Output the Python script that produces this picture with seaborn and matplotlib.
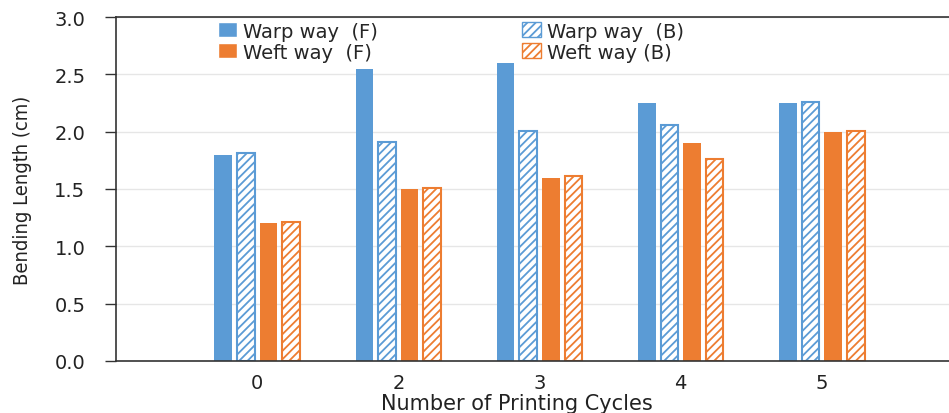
import pandas as pd
import matplotlib
matplotlib.use('Agg')
import matplotlib.pyplot as plt
from matplotlib.patches import Patch
import seaborn as sns

# data
cycles = ['0', '2', '3', '4', '5']
warp_f = [1.80, 2.55, 2.60, 2.25, 2.25]
warp_b = [1.81, 1.91, 2.01, 2.06, 2.26]
weft_f = [1.20, 1.50, 1.60, 1.90, 2.00]
weft_b = [1.21, 1.51, 1.61, 1.76, 2.01]
series = ['Warp way  (F)', 'Warp way  (B)', 'Weft way  (F)', 'Weft way (B)']

blue = '#5B9BD5'
orange = '#ED7D31'
colors = [blue, blue, orange, orange]

df = pd.DataFrame({
    'cycle': cycles * 4,
    'value': warp_f + warp_b + weft_f + weft_b,
    'series': sum([[s] * len(cycles) for s in series], []),
})

sns.set_style('white')
plt.rcParams['hatch.linewidth'] = 1.3

fig = plt.figure(figsize=(9.49, 4.14), dpi=100)
ax = fig.add_axes([116 / 949, 1 - 362 / 414, (963 - 116) / 949, (362 - 18) / 414])

sns.barplot(data=df, x='cycle', y='value', hue='series', hue_order=series,
            palette=colors, saturation=1, width=0.64, gap=0.22, ax=ax,
            legend=False, edgecolor='white', linewidth=0)

# backward-side series get hatched bars
for i, cont in enumerate(ax.containers):
    for bar in cont:
        if i in (1, 3):
            bar.set_facecolor('white')
            bar.set_edgecolor(colors[i])
            bar.set_hatch('////')
            bar.set_linewidth(1.5)

ax.set_xlim(-1, 5)
ax.set_ylim(0, 3.0)
ax.set_yticks([0, 0.5, 1.0, 1.5, 2.0, 2.5, 3.0])
ax.set_yticklabels(['0.0', '0.5', '1.0', '1.5', '2.0', '2.5', '3.0'])
ax.yaxis.grid(True, color='#e6e6e6', linewidth=1)
ax.set_axisbelow(True)
for side in ['left', 'bottom', 'top', 'right']:
    ax.spines[side].set_color('#333333')
    ax.spines[side].set_linewidth(1.2)
ax.tick_params(axis='y', direction='out', length=8, width=1, color='#333333',
               labelsize=14, pad=14, left=True)
ax.tick_params(axis='x', length=0, labelsize=14, pad=9)
for lbl in ax.get_xticklabels() + ax.get_yticklabels():
    lbl.set_color('#222222')

ax.set_xlabel('Number of Printing Cycles', fontsize=15, color='#222222')
ax.xaxis.set_label_coords((517 - 116) / 847, -0.092)
ax.set_ylabel('Bending Length (cm)', fontsize=14.5, color='#222222',
              family=['Liberation Sans Narrow', 'DejaVu Sans'],
              fontstretch='condensed')
ax.yaxis.set_label_coords(-(116 - 32) / 847, 0.5)

handles = [
    Patch(facecolor=blue, edgecolor='white'),
    Patch(facecolor=orange, edgecolor='white'),
    Patch(facecolor='white', edgecolor=blue, hatch='////'),
    Patch(facecolor='white', edgecolor=orange, hatch='////'),
]
labels = [series[0], series[2], series[1], series[3]]
fig.legend(handles, labels, ncol=2, loc='upper left',
           bbox_to_anchor=(204 / 949, 1 - 9 / 414), frameon=False,
           fontsize=14, handlelength=1.0, handleheight=0.8, handletextpad=0.3,
           columnspacing=7.4, labelspacing=0.1, borderpad=0.2)

fig.savefig('out.png', dpi=100)
